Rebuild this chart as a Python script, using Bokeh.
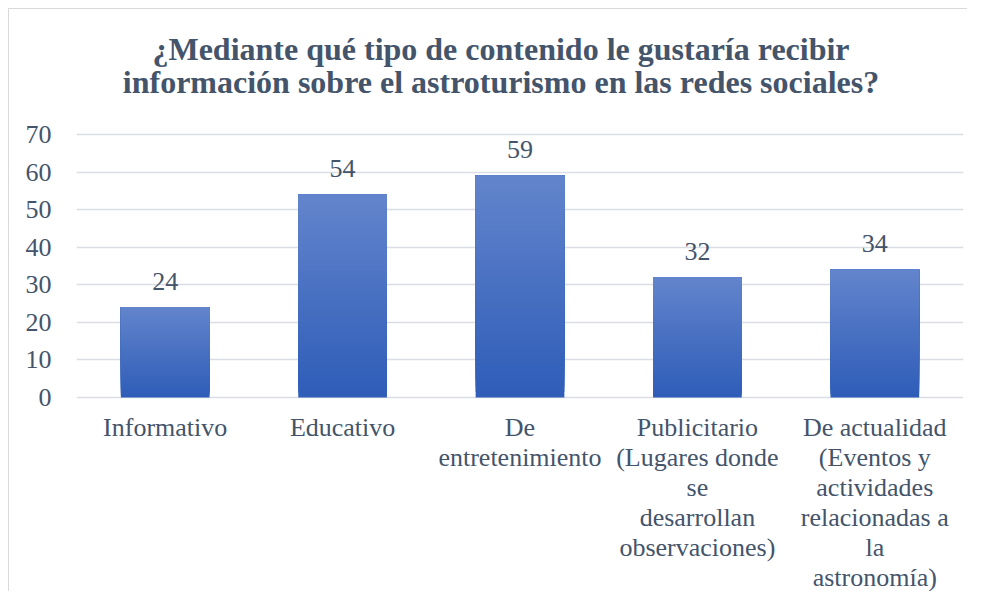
from bokeh.plotting import figure
from bokeh.models import Range1d, FactorRange, FixedTicker
from bokeh.core.properties import value
from bokeh.embed import file_html
from bokeh.resources import INLINE

# ---- data ----
categories = ["Informativo", "Educativo", "De entretenimiento",
              "Publicitario (Lugares donde se desarrollan observaciones)",
              "De actualidad (Eventos y actividades relacionadas a la astronomía)"]
values = [24, 54, 59, 32, 34]
label_lines = [
    ["Informativo"],
    ["Educativo"],
    ["De", "entretenimiento"],
    ["Publicitario", "(Lugares donde", "se", "desarrollan", "observaciones)"],
    ["De actualidad", "(Eventos y", "actividades", "relacionadas a", "la", "astronomía)"],
]
y_ticks = [0, 10, 20, 30, 40, 50, 60, 70]
title_lines = ["¿Mediante qué tipo de contenido le gustaría recibir",
               "información sobre el astroturismo en las redes sociales?"]

# ---- layout ----
W, H = 967, 591
frame_left, frame_right = 76, 963
y_zero_px, y_top_px = 397, 134          # canvas px of y=0 and y=70
s = (y_zero_px - y_top_px) / 70.0       # px per unit
y_start = -(H - y_zero_px) / s
y_end = 70 + y_top_px / s
SHIFT = 9                               # text baseline correction (px)

TEXT = "#44546A"
FONT = value("Liberation Serif")

p = figure(width=W, height=H, output_backend="svg", toolbar_location=None,
           x_range=FactorRange(*categories, range_padding=0),
           y_range=Range1d(y_start, y_end),
           x_axis_location=None,
           min_border_left=frame_left, min_border_right=W - frame_right,
           min_border_top=0, min_border_bottom=0)
p.outline_line_color = None
p.background_fill_color = None
p.border_fill_color = None
# chart-area border (left and top edges) drawn behind the transparent canvas
p.styles = {"background": "linear-gradient(#D9D9D9, #D9D9D9) 8px 8px / 1px 100% no-repeat, "
                          "linear-gradient(#D9D9D9, #D9D9D9) 8px 8px / 100% 1px no-repeat, #FFFFFF"}

p.xgrid.grid_line_color = None
p.ygrid.ticker = FixedTicker(ticks=y_ticks)
p.ygrid.grid_line_color = "#DADEE4"
p.ygrid.grid_line_width = 1.5

ax = p.yaxis[0]
ax.ticker = FixedTicker(ticks=y_ticks)
ax.axis_line_color = None
ax.major_tick_line_color = None
ax.minor_tick_line_color = None
ax.major_tick_in = 0
ax.major_tick_out = 0
ax.major_label_standoff = 25
ax.major_label_text_font = "Liberation Serif"
ax.major_label_text_font_size = "26px"
ax.major_label_text_color = TEXT

# ---- gradient bars (overlapping slices derived from each value) ----
top_c = (0x63, 0x84, 0xCC)
bot_c = (0x2E, 0x5D, 0xB8)
N = 40
xs, bots, tops, cols = [], [], [], []
for i in range(N):
    f = (i + 0.5) / N
    rgb = tuple(int(round(b + (t - b) * f)) for b, t in zip(bot_c, top_c))
    for c, v in zip(categories, values):
        xs.append(c)
        bots.append(v * i / N)
        tops.append(v)
        cols.append("#%02x%02x%02x" % rgb)
p.vbar(x=xs, bottom=bots, top=tops, width=0.5, fill_color=cols, line_color=None)

# ---- data labels ----
p.text(x=categories, y=[v + (17 + SHIFT) / s for v in values], text=[str(v) for v in values],
       text_font=FONT, text_font_size="26px", text_color=TEXT,
       text_align="center", text_baseline="alphabetic")

# ---- category labels ----
lx, ly, lt = [], [], []
for c, lines in zip(categories, label_lines):
    for k, line in enumerate(lines):
        lx.append(c)
        ly.append(-(39 + k * 30.0 - SHIFT) / s)
        lt.append(line)
p.text(x=lx, y=ly, text=lt, text_font=FONT, text_font_size="26px", text_color=TEXT,
       text_align="center", text_baseline="alphabetic")

# ---- title ----
p.text(x=[categories[2]] * 2,
       y=[(y_zero_px - 58 + 10) / s, (y_zero_px - 91.5 + 10) / s],
       text=title_lines, x_offset=-19,
       text_font=FONT, text_font_size="32px", text_font_style="bold",
       text_color=TEXT, text_align="center", text_baseline="alphabetic")

open("out.html", "w").write(file_html(p, INLINE))
